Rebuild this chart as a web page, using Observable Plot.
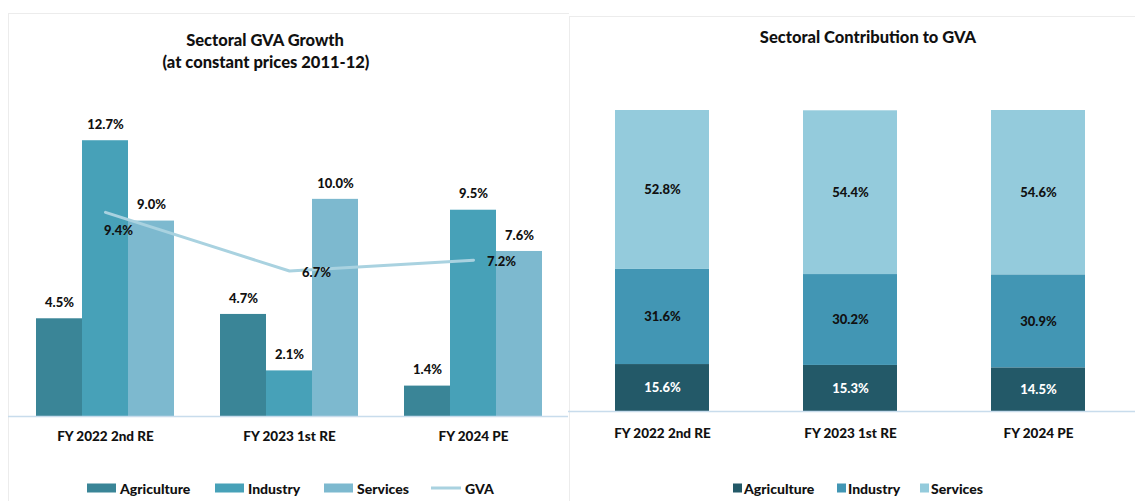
<!DOCTYPE html>
<html>
<head>
<meta charset="utf-8">
<script src="https://cdn.jsdelivr.net/npm/d3@7"></script>
<script src="https://cdn.jsdelivr.net/npm/@observablehq/plot@0.6"></script>
<style>
  html, body { margin: 0; padding: 0; background: #fff; }
  body { font-family: Lato, "Open Sans", sans-serif; color: #111; }
  #wrap { position: relative; width: 1135px; height: 501px; overflow: hidden; }
  .panel { position: absolute; border-top: 1px solid #ececec; border-left: 1px solid #ececec; }
  .title { position: absolute; font-weight: 900; font-size: 16.5px; white-space: nowrap; transform: translate(-50%, -50%); line-height: 1; }
  .plotbox { position: absolute; top: 0; }
  .leg { position: absolute; display: flex; align-items: center; font-weight: 900; font-size: 14px; white-space: nowrap; transform: translateY(-50%); }
  .sw { display: inline-block; margin-right: 4px; }
</style>
</head>
<body>
<div id="wrap">
  <div class="panel" style="left:8px; top:13px; width:560px; height:490px;"></div>
  <div class="panel" style="left:569px; top:16px; width:570px; height:490px;"></div>
  <div class="title" style="left:265px; top:40px;">Sectoral GVA Growth</div>
  <div class="title" style="left:266px; top:62px;">(at constant prices 2011-12)</div>
  <div class="title" style="left:868px; top:37px;">Sectoral Contribution to GVA</div>
  <div id="left" class="plotbox" style="left:0px;"></div>
  <div id="right" class="plotbox" style="left:565px;"></div>
</div>
<script>
// ---- Data ----
const years = ["FY 2022 2nd RE", "FY 2023 1st RE", "FY 2024 PE"];
const sectors = ["Agriculture", "Industry", "Services"];
// Sectoral GVA growth (%)
const agricultureGrowth = [4.5, 4.7, 1.4];
const industryGrowth = [12.7, 2.1, 9.5];
const servicesGrowth = [9.0, 10.0, 7.6];
const gvaGrowth = [9.4, 6.7, 7.2];
// Sectoral contribution to GVA (%)
const agricultureShare = [15.6, 15.3, 14.5];
const industryShare = [31.6, 30.2, 30.9];
const servicesShare = [52.8, 54.4, 54.6];

// ---- Styles ----
const growthColors = ["#3a8597", "#47a1b8", "#7db9cf"];
const gvaColor = "#a9d2e0";
const shareColors = ["#235968", "#4296b4", "#94cbdc"];
const font = "Lato, 'Open Sans', sans-serif";
const W = 900;

// ---- Left chart: grouped bars + GVA line ----
const growthBySector = [agricultureGrowth, industryGrowth, servicesGrowth];
const key = (y, s) => y + "|" + s;
const xDomain = [];
years.forEach((y, i) => {
  sectors.forEach(s => xDomain.push(key(y, s)));
  if (i < years.length - 1) xDomain.push("gap" + i);
});
const growthData = [];
years.forEach((y, i) => sectors.forEach((s, j) => growthData.push({year: y, sector: s, key: key(y, s), value: growthBySector[j][i]})));
const gvaData = years.map((y, i) => ({year: y, key: key(y, "Industry"), value: gvaGrowth[i]}));
const gvaOffsets = [[13, 18], [27, 2], [28, 2]];
const pct = d => d.value.toFixed(1) + "%";

const left = Plot.plot({
  width: 570, height: 460,
  marginTop: 112, marginBottom: 44, marginLeft: 8, marginRight: 2,
  style: {background: "transparent", fontFamily: font, fontSize: "13.5px", fontWeight: W, color: "#111"},
  x: {type: "band", domain: xDomain, range: [34, 544], padding: 0, ticks: years.map(y => key(y, "Industry")),
      tickFormat: d => d.split("|")[0], tickSize: 0, tickPadding: 15, label: null},
  y: {domain: [0, 14], axis: null},
  color: {domain: sectors, range: growthColors},
  marks: [
    Plot.barY(growthData, {x: "key", y: "value", fill: "sector"}),
    Plot.ruleY([0], {stroke: "#c8dcec", strokeWidth: 1.5}),
    Plot.text(growthData, {x: "key", y: "value", text: pct, dy: -16, fontSize: 13, fontWeight: W, fill: "#111"}),
    Plot.line(gvaData, {x: "key", y: "value", stroke: gvaColor, strokeWidth: 3}),
    ...gvaData.map((d, i) => Plot.text([d], {x: "key", y: "value", text: pct, dx: gvaOffsets[i][0], dy: gvaOffsets[i][1], fontSize: 13, fontWeight: W, fill: "#111"}))
  ]
});
document.getElementById("left").appendChild(left);

// ---- Right chart: stacked shares ----
const shareBySector = [agricultureShare, industryShare, servicesShare];
const shareData = [];
sectors.forEach((s, j) => years.forEach((y, i) => shareData.push({year: y, sector: s, value: shareBySector[j][i]})));

const right = Plot.plot({
  width: 570, height: 460,
  marginTop: 110, marginBottom: 49, marginLeft: 3, marginRight: 0,
  style: {background: "transparent", fontFamily: font, fontSize: "13.5px", fontWeight: W, color: "#111"},
  x: {type: "band", domain: years, range: [3, 567], paddingInner: 0.5, paddingOuter: 0.25, tickSize: 0, tickPadding: 17, label: null},
  y: {domain: [0, 100], axis: null},
  color: {domain: sectors, range: shareColors},
  marks: [
    Plot.barY(shareData, {x: "year", y: "value", fill: "sector", z: "sector"}),
    Plot.ruleY([0], {stroke: "#c8dcec", strokeWidth: 1.5}),
    Plot.text(shareData, Plot.stackY({x: "year", y: "value", z: "sector", text: pct, fontSize: 13, fontWeight: W,
      fill: d => d.sector === "Agriculture" ? "#ffffff" : "#111"}))
  ]
});
document.getElementById("right").appendChild(right);

// ---- Legends ----
const wrap = document.getElementById("wrap");
function legendItem(x, y, swatch, label) {
  const el = document.createElement("div");
  el.className = "leg";
  el.style.left = x + "px";
  el.style.top = y + "px";
  const sw = document.createElement("span");
  sw.className = "sw";
  Object.assign(sw.style, swatch);
  el.appendChild(sw);
  el.appendChild(document.createTextNode(label));
  wrap.appendChild(el);
}
const legLX = [87, 215, 324];
sectors.forEach((s, i) => legendItem(legLX[i], 488, {width: "29px", height: "9px", background: growthColors[i]}, s));
legendItem(431, 488, {width: "30px", height: "3px", background: gvaColor}, "GVA");
const legRX = [733, 837, 920];
sectors.forEach((s, i) => legendItem(legRX[i], 488, {width: "9px", height: "9px", background: shareColors[i], marginRight: "2px"}, s));
</script>
</body>
</html>
